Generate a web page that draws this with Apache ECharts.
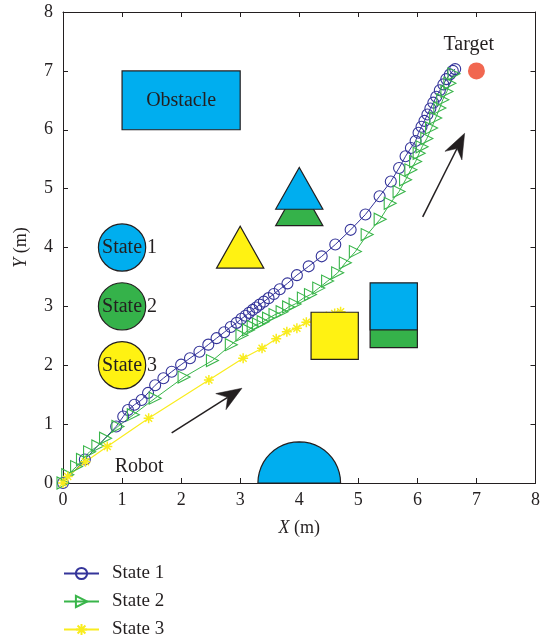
<!DOCTYPE html>
<html>
<head>
<meta charset="utf-8">
<script src="https://cdn.jsdelivr.net/npm/echarts@6/dist/echarts.min.js"></script>
<style>
html,body{margin:0;padding:0;background:#fff;}
#chart{width:546px;height:640px;}
</style>
</head>
<body>
<div id="chart"></div>
<script>
// Robot trajectories for the three obstacle states (metres)
const state1X = [0, 0.37, 0.90, 1.02, 1.10, 1.21, 1.33, 1.44, 1.56, 1.70, 1.84, 2.00, 2.15, 2.31, 2.46, 2.60, 2.73, 2.84, 2.94, 3.02, 3.09, 3.15, 3.21, 3.27, 3.33, 3.40, 3.48, 3.57, 3.67, 3.80, 3.96, 4.16, 4.38, 4.61, 4.87, 5.12, 5.36, 5.55, 5.69, 5.80, 5.89, 5.97, 6.02, 6.07, 6.12, 6.17, 6.22, 6.27, 6.32, 6.38, 6.44, 6.49, 6.55, 6.60, 6.64];
const state1Y = [0, 0.40, 0.96, 1.13, 1.24, 1.33, 1.41, 1.53, 1.66, 1.78, 1.89, 2.01, 2.12, 2.23, 2.35, 2.46, 2.56, 2.65, 2.72, 2.79, 2.84, 2.89, 2.94, 2.98, 3.03, 3.08, 3.14, 3.21, 3.29, 3.39, 3.53, 3.68, 3.85, 4.05, 4.30, 4.56, 4.87, 5.12, 5.35, 5.55, 5.69, 5.81, 5.95, 6.05, 6.15, 6.26, 6.36, 6.46, 6.56, 6.67, 6.77, 6.86, 6.94, 7.00, 7.03];

const state2X = [0, 0.08, 0.23, 0.33, 0.45, 0.59, 0.72, 0.93, 1.19, 1.56, 2.05, 2.53, 2.85, 3.03, 3.14, 3.22, 3.31, 3.39, 3.48, 3.59, 3.71, 3.82, 3.93, 4.07, 4.19, 4.33, 4.48, 4.65, 4.78, 4.95, 5.15, 5.37, 5.54, 5.69, 5.80, 5.89, 5.97, 6.03, 6.08, 6.16, 6.24, 6.31, 6.38, 6.43, 6.50, 6.55, 6.62];
const state2Y = [0, 0.14, 0.28, 0.40, 0.53, 0.63, 0.76, 0.96, 1.16, 1.44, 1.80, 2.08, 2.35, 2.51, 2.60, 2.66, 2.70, 2.74, 2.80, 2.86, 2.91, 2.99, 3.04, 3.14, 3.20, 3.31, 3.43, 3.57, 3.74, 3.93, 4.22, 4.48, 4.75, 4.95, 5.15, 5.32, 5.46, 5.60, 5.71, 5.85, 6.03, 6.20, 6.37, 6.51, 6.65, 6.79, 6.95];

const state3X = [0, 0.08, 0.38, 0.75, 1.45, 2.47, 3.05, 3.37, 3.61, 3.79, 3.96, 4.12, 4.30, 4.46, 4.60, 4.70];
const state3Y = [0, 0.11, 0.36, 0.62, 1.10, 1.75, 2.12, 2.29, 2.45, 2.57, 2.63, 2.73, 2.78, 2.83, 2.88, 2.91];

// Axis ticks
const xTicks = [0, 1, 2, 3, 4, 5, 6, 7, 8];
const yTicks = [0, 1, 2, 3, 4, 5, 6, 7, 8];

// Scene geometry in data units
const obstacleBox = [1, 6, 3, 7];                 // x0, y0, x1, y1
const squareState1 = [5.2, 2.6, 6.0, 3.4];
const squareState2 = [5.2, 2.3, 6.0, 3.1];
const squareState3 = [4.2, 2.1, 5.0, 2.9];
const triangleState1 = [4.0, 4.65, 0.8, 0.71];    // centre x, base y, base width, height
const triangleState2 = [4.0, 4.37, 0.8, 0.71];
const triangleState3 = [3.0, 3.65, 0.8, 0.71];
const keyCircles = [[1, 4], [1, 3], [1, 2]];       // legend discs, radius below
const keyCircleRadius = 0.4;
const keyLabels = ['State 1', 'State 2', 'State 3'];
const groundObstacle = [4, 0, 0.7];               // centre x, centre y, radius
const targetPoint = [7, 7];
const arrowLines = [[1.84, 0.85, 3.03, 1.61], [6.09, 4.52, 6.80, 5.94]];
const sceneTexts = [['Obstacle', 2.0, 6.5], ['Target', 6.87, 7.45], ['Robot', 1.29, 0.28]];

const FONT = "'Liberation Serif', 'Times New Roman', serif";
const INK = '#231F20';
const BLUE = '#00AEEF', GREEN = '#35B24A', YELLOW = '#FFF212';
const C1 = '#35359A', C2 = '#39B54A', C3 = '#F9EC1E';

const chart = echarts.init(document.getElementById('chart'), null, {renderer: 'canvas'});

function axisBase(extra) {
  return Object.assign({
    type: 'value', min: 0, max: 8, interval: 1,
    axisLine: {show: true, onZero: false, lineStyle: {color: INK, width: 1}},
    axisTick: {show: true, inside: true, length: 5, lineStyle: {color: INK, width: 1}},
    splitLine: {show: false}
  }, extra);
}

function rectSeries(box, fill, z2) {
  return {
    type: 'custom', coordinateSystem: 'cartesian2d', silent: true, z: 3,
    data: [box],
    renderItem: (p, api) => {
      const a = api.coord([api.value(0), api.value(3)]);
      const b = api.coord([api.value(2), api.value(1)]);
      return {type: 'rect', z2: z2,
        shape: {x: a[0], y: a[1], width: b[0] - a[0], height: b[1] - a[1]},
        style: {fill: fill, stroke: INK, lineWidth: 1.2}};
    }
  };
}

function triangleSeries(tri, fill, z2) {
  return {
    type: 'custom', coordinateSystem: 'cartesian2d', silent: true, z: 3,
    data: [tri],
    renderItem: (p, api) => {
      const cx = api.value(0), by = api.value(1), w = api.value(2), h = api.value(3);
      const pts = [api.coord([cx - w / 2, by]), api.coord([cx, by + h]), api.coord([cx + w / 2, by])];
      return {type: 'polygon', z2: z2, shape: {points: pts},
        style: {fill: fill, stroke: INK, lineWidth: 1.2}};
    }
  };
}

const keyFills = [BLUE, GREEN, YELLOW];
const keyCircleSeries = {
  type: 'custom', coordinateSystem: 'cartesian2d', silent: true, z: 3,
  data: keyCircles.map((c, i) => [c[0], c[1], i]),
  renderItem: (p, api) => {
    const i = api.value(2);
    const c = api.coord([api.value(0), api.value(1)]);
    const e = api.coord([api.value(0) + keyCircleRadius, api.value(1)]);
    const r = e[0] - c[0];
    return {type: 'group', children: [
      {type: 'circle', shape: {cx: c[0], cy: c[1], r: r}, style: {fill: keyFills[i], stroke: INK, lineWidth: 1.2}},
      {type: 'text', style: {x: c[0] - 20, y: c[1], text: keyLabels[i], fill: INK, font: '20px ' + FONT, align: 'left', verticalAlign: 'middle'}}
    ]};
  }
};

const groundSeries = {
  type: 'custom', coordinateSystem: 'cartesian2d', silent: true, z: 3,
  data: [groundObstacle],
  renderItem: (p, api) => {
    const cx = api.value(0), cy = api.value(1), r = api.value(2);
    const pts = [];
    for (let k = 0; k <= 24; k++) {
      const t = Math.PI * k / 24;
      pts.push(api.coord([cx + r * Math.cos(t), cy + r * Math.sin(t)]));
    }
    return {type: 'polygon', shape: {points: pts}, style: {fill: BLUE, stroke: INK, lineWidth: 1.2}};
  }
};

const arrowSeries = {
  type: 'custom', coordinateSystem: 'cartesian2d', silent: true, z: 3,
  data: arrowLines,
  renderItem: (p, api) => {
    const a = api.coord([api.value(0), api.value(1)]);
    const b = api.coord([api.value(2), api.value(3)]);
    const dx = b[0] - a[0], dy = b[1] - a[1];
    const len = Math.sqrt(dx * dx + dy * dy);
    const ux = dx / len, uy = dy / len, nx = -uy, ny = ux;
    const headLen = 25, halfW = 9.5, notch = 17;
    const back = [b[0] - ux * headLen, b[1] - uy * headLen];
    const mid = [b[0] - ux * notch, b[1] - uy * notch];
    return {type: 'group', children: [
      {type: 'line', shape: {x1: a[0], y1: a[1], x2: mid[0], y2: mid[1]}, style: {stroke: INK, lineWidth: 1.5}},
      {type: 'polygon', shape: {points: [b, [back[0] + nx * halfW, back[1] + ny * halfW], mid, [back[0] - nx * halfW, back[1] - ny * halfW]]},
        style: {fill: INK, stroke: INK, lineWidth: 0.5}}
    ]};
  }
};

const textSeries = {
  type: 'custom', coordinateSystem: 'cartesian2d', silent: true, z: 4,
  data: sceneTexts.map((t, i) => [t[1], t[2], i]),
  renderItem: (p, api) => {
    const c = api.coord([api.value(0), api.value(1)]);
    return {type: 'text', style: {x: c[0], y: c[1], text: sceneTexts[api.value(2)][0], fill: INK,
      font: '20px ' + FONT, align: 'center', verticalAlign: 'middle'}};
  }
};

const zipXY = (xs, ys) => xs.map((x, i) => [x, ys[i]]);
const starPath = 'path://M50,0L50,100M0,50L100,50M15,15L85,85M15,85L85,15';

chart.setOption({
  animation: false,
  backgroundColor: '#fff',
  grid: {left: 63, right: 10.5, top: 12, bottom: 157, containLabel: false},
  xAxis: [
    axisBase({position: 'bottom',
      axisLabel: {show: true, fontFamily: FONT, fontSize: 18, color: INK, margin: 8,
        customValues: xTicks},
      name: '{it|X} (m)', nameLocation: 'middle', nameGap: 36,
      nameTextStyle: {fontFamily: FONT, fontSize: 18, color: INK,
        rich: {it: {fontFamily: FONT, fontSize: 18, fontStyle: 'italic', color: INK}}}}),
    axisBase({position: 'top', axisLabel: {show: false}})
  ],
  yAxis: [
    axisBase({position: 'left',
      axisLabel: {show: true, fontFamily: FONT, fontSize: 18, color: INK, margin: 10,
        customValues: yTicks},
      name: '{it|Y} (m)', nameLocation: 'middle', nameGap: 33,
      nameTextStyle: {fontFamily: FONT, fontSize: 18, color: INK,
        rich: {it: {fontFamily: FONT, fontSize: 18, fontStyle: 'italic', color: INK}}}}),
    axisBase({position: 'right', axisLabel: {show: false}})
  ],
  legend: {
    orient: 'vertical', left: 63, top: 564, width: 200, height: 120, padding: 0,
    itemWidth: 35, itemHeight: 14, itemGap: 9,
    textStyle: {fontFamily: FONT, fontSize: 19, lineHeight: 14, color: INK, padding: [0, 0, 0, 8]},
    data: ['State 1', 'State 2', 'State 3']
  },
  series: [
    {
      name: 'State 1', type: 'line', z: 2, data: zipXY(state1X, state1Y),
      symbol: 'circle', symbolSize: 11,
      lineStyle: {color: C1, width: 1},
      itemStyle: {color: 'rgba(0,0,0,0)', borderColor: C1, borderWidth: 1.1}
    },
    {
      name: 'State 2', type: 'line', z: 2, data: zipXY(state2X, state2Y),
      symbol: 'triangle', symbolSize: 12, symbolRotate: -90,
      lineStyle: {color: C2, width: 1},
      itemStyle: {color: 'rgba(0,0,0,0)', borderColor: C2, borderWidth: 1.1}
    },
    {
      name: 'State 3', type: 'line', z: 2, data: zipXY(state3X, state3Y),
      symbol: starPath, symbolSize: 10,
      lineStyle: {color: C3, width: 1.2},
      itemStyle: {color: C3, borderColor: C3, borderWidth: 1.5}
    },
    rectSeries(obstacleBox, BLUE, 1),
    rectSeries(squareState2, GREEN, 1),
    rectSeries(squareState1, BLUE, 2),
    rectSeries(squareState3, YELLOW, 1),
    triangleSeries(triangleState2, GREEN, 1),
    triangleSeries(triangleState1, BLUE, 2),
    triangleSeries(triangleState3, YELLOW, 1),
    keyCircleSeries,
    groundSeries,
    arrowSeries,
    textSeries,
    {
      type: 'scatter', z: 3, silent: true, data: [targetPoint],
      symbol: 'circle', symbolSize: 17, itemStyle: {color: '#EE4124'}
    }
  ]
});
</script>
</body>
</html>
